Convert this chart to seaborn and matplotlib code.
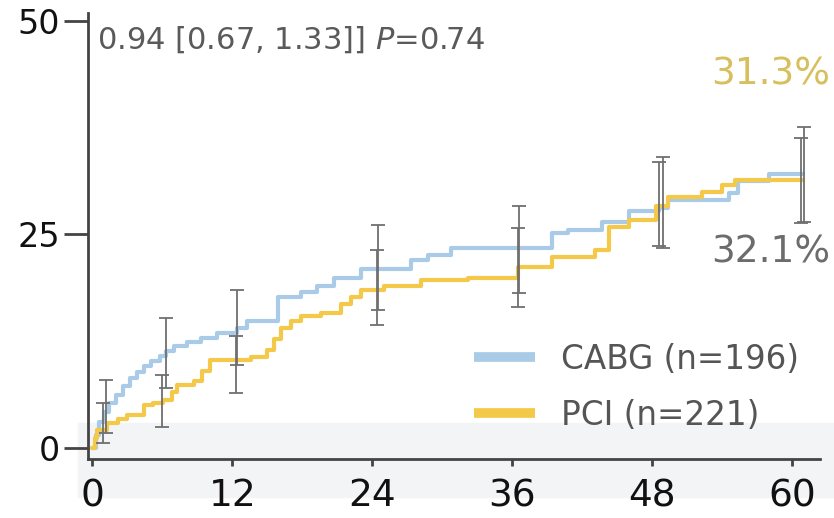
import numpy as np
import pandas as pd
import seaborn as sns
import matplotlib.pyplot as plt
from matplotlib.patches import Rectangle

# ---- data ----
cabg_t = [0, 0.3, 0.6, 1.0, 1.4, 2.0, 2.6, 3.2, 3.8, 4.4, 5.0, 5.8, 6.3, 7.0, 8.1, 9.3,
          10.7, 12.4, 13.3, 15.9, 17.9, 19.3, 20.7, 23.0, 27.3, 28.8, 30.8, 39.4, 40.8,
          43.7, 46.0, 48.6, 49.4, 54.6, 55.4, 58.0, 60.9]
cabg_v = [0, 1.5, 3.0, 4.2, 5.3, 6.2, 7.2, 8.2, 8.9, 9.6, 10.2, 10.8, 11.3, 11.9, 12.4, 12.9,
          13.5, 14.0, 14.8, 17.7, 18.3, 18.9, 19.9, 21.0, 22.0, 22.6, 23.4, 25.1, 25.5,
          26.5, 27.7, 28.1, 29.0, 29.8, 31.2, 32.1, 32.1]

pci_t = [0, 0.2, 0.4, 1.3, 2.2, 3.0, 4.4, 5.2, 6.1, 6.8, 7.3, 8.7, 9.4, 10.1, 13.6, 15.0,
         15.6, 16.2, 17.0, 17.9, 19.6, 21.3, 22.2, 23.0, 25.0, 28.2, 32.2, 36.5, 39.4,
         43.1, 44.3, 46.0, 48.3, 49.4, 52.3, 54.0, 55.1, 60.9]
pci_v = [0, 1.2, 2.1, 2.9, 3.4, 3.9, 5.0, 5.3, 5.6, 6.5, 7.4, 7.8, 9.0, 10.3, 10.7, 11.5,
         12.8, 14.0, 14.8, 15.4, 15.8, 16.9, 17.7, 18.5, 18.9, 19.7, 19.9, 21.2, 22.4,
         23.2, 25.9, 26.7, 28.3, 29.4, 30.0, 30.8, 31.3, 31.3]

cabg_ci_t = [1.2, 6.3, 12.4, 24.5, 36.6, 48.9, 61.0]
cabg_ci_lo = [1.7, 7.0, 9.7, 16.2, 18.1, 23.4, 26.4]
cabg_ci_hi = [7.9, 15.2, 18.5, 26.1, 28.3, 34.1, 37.6]

pci_ci_t = [0.9, 6.0, 12.3, 24.4, 36.5, 48.6, 60.8]
pci_ci_lo = [0.55, 2.5, 6.4, 14.4, 16.5, 23.6, 26.3]
pci_ci_hi = [5.3, 8.5, 13.1, 23.2, 25.7, 33.5, 36.3]

x_ticks = [0, 12, 24, 36, 48, 60]
y_ticks = [0, 25, 50]
labels = ["CABG (n=196)", "PCI (n=221)"]
stat_text = r"0.94 [0.67, 1.33]] $\mathit{P}$=0.74"
final_labels = ["32.1%", "31.3%"]

BLUE = "#aacbe8"
YELLOW = "#f4c94a"

sns.set_theme(style="white")
plt.rcParams['font.family'] = ['DejaVu Sans']
plt.rcParams['mathtext.fontset'] = 'dejavusans'

fig = plt.figure(figsize=(8.34, 5.18), dpi=100)
ax = fig.add_axes([88/834, 1 - 459/518, (820 - 88)/834, (459 - 13)/518])
ax.patch.set_alpha(0)

# faint background band of the scanned original
fig.patches.append(Rectangle((78/834, 1 - 497/518), 1, 74/518, transform=fig.transFigure,
                             color="#f3f4f5", zorder=-5))

df = pd.concat([
    pd.DataFrame({"t": cabg_t, "v": cabg_v, "g": labels[0]}),
    pd.DataFrame({"t": pci_t, "v": pci_v, "g": labels[1]}),
])
sns.lineplot(data=df, x="t", y="v", hue="g", palette=[BLUE, YELLOW], estimator=None,
             drawstyle="steps-post", linewidth=3.0, ax=ax, legend=True)

for t, lo, hi in [(cabg_ci_t, cabg_ci_lo, cabg_ci_hi), (pci_ci_t, pci_ci_lo, pci_ci_hi)]:
    t = np.array(t); lo = np.array(lo); hi = np.array(hi)
    ax.errorbar(t, (lo + hi) / 2, yerr=(hi - lo) / 2, fmt="none", ecolor="#6f6f6f",
                elinewidth=1.3, capsize=5, capthick=1.3, zorder=3)

ax.set_xlim(-0.37, 62.4)
ax.set_ylim(-1.29, 50.9)
ax.set_xticks(x_ticks)
ax.set_yticks(y_ticks)
ax.set_xlabel("")
ax.set_ylabel("")
for s in ["top", "right"]:
    ax.spines[s].set_visible(False)
for s in ["left", "bottom"]:
    ax.spines[s].set_color("#444444")
    ax.spines[s].set_linewidth(2)
ax.tick_params(axis="both", which="major", width=2, direction="out", left=True, bottom=True,
               color="#444444", labelcolor="#111111")
ax.tick_params(axis="y", labelsize=24, length=17, pad=3)
ax.tick_params(axis="x", labelsize=27, length=5, pad=9)

ax.text(0.012, 0.975, stat_text, transform=ax.transAxes, fontsize=22, color="#5a5a5a",
        va="top", ha="left")

ax.text(1.014, 0.862, final_labels[1], transform=ax.transAxes, fontsize=27,
        color="#d6bf5c", ha="right", va="center")
ax.text(1.014, 0.462, final_labels[0], transform=ax.transAxes, fontsize=27,
        color="#6c6c6c", ha="right", va="center")

leg = ax.legend(loc="upper left", bbox_to_anchor=(0.5056, 0.297), frameon=False,
                fontsize=23.5, handlelength=1.85, handletextpad=0.8, labelspacing=0.7,
                borderpad=0, title=None)
for h in leg.get_lines():
    h.set_linewidth(7)
    h.set_solid_capstyle("butt")
for t in leg.get_texts():
    t.set_color("#555555")

fig.savefig("out.png", dpi=100)
